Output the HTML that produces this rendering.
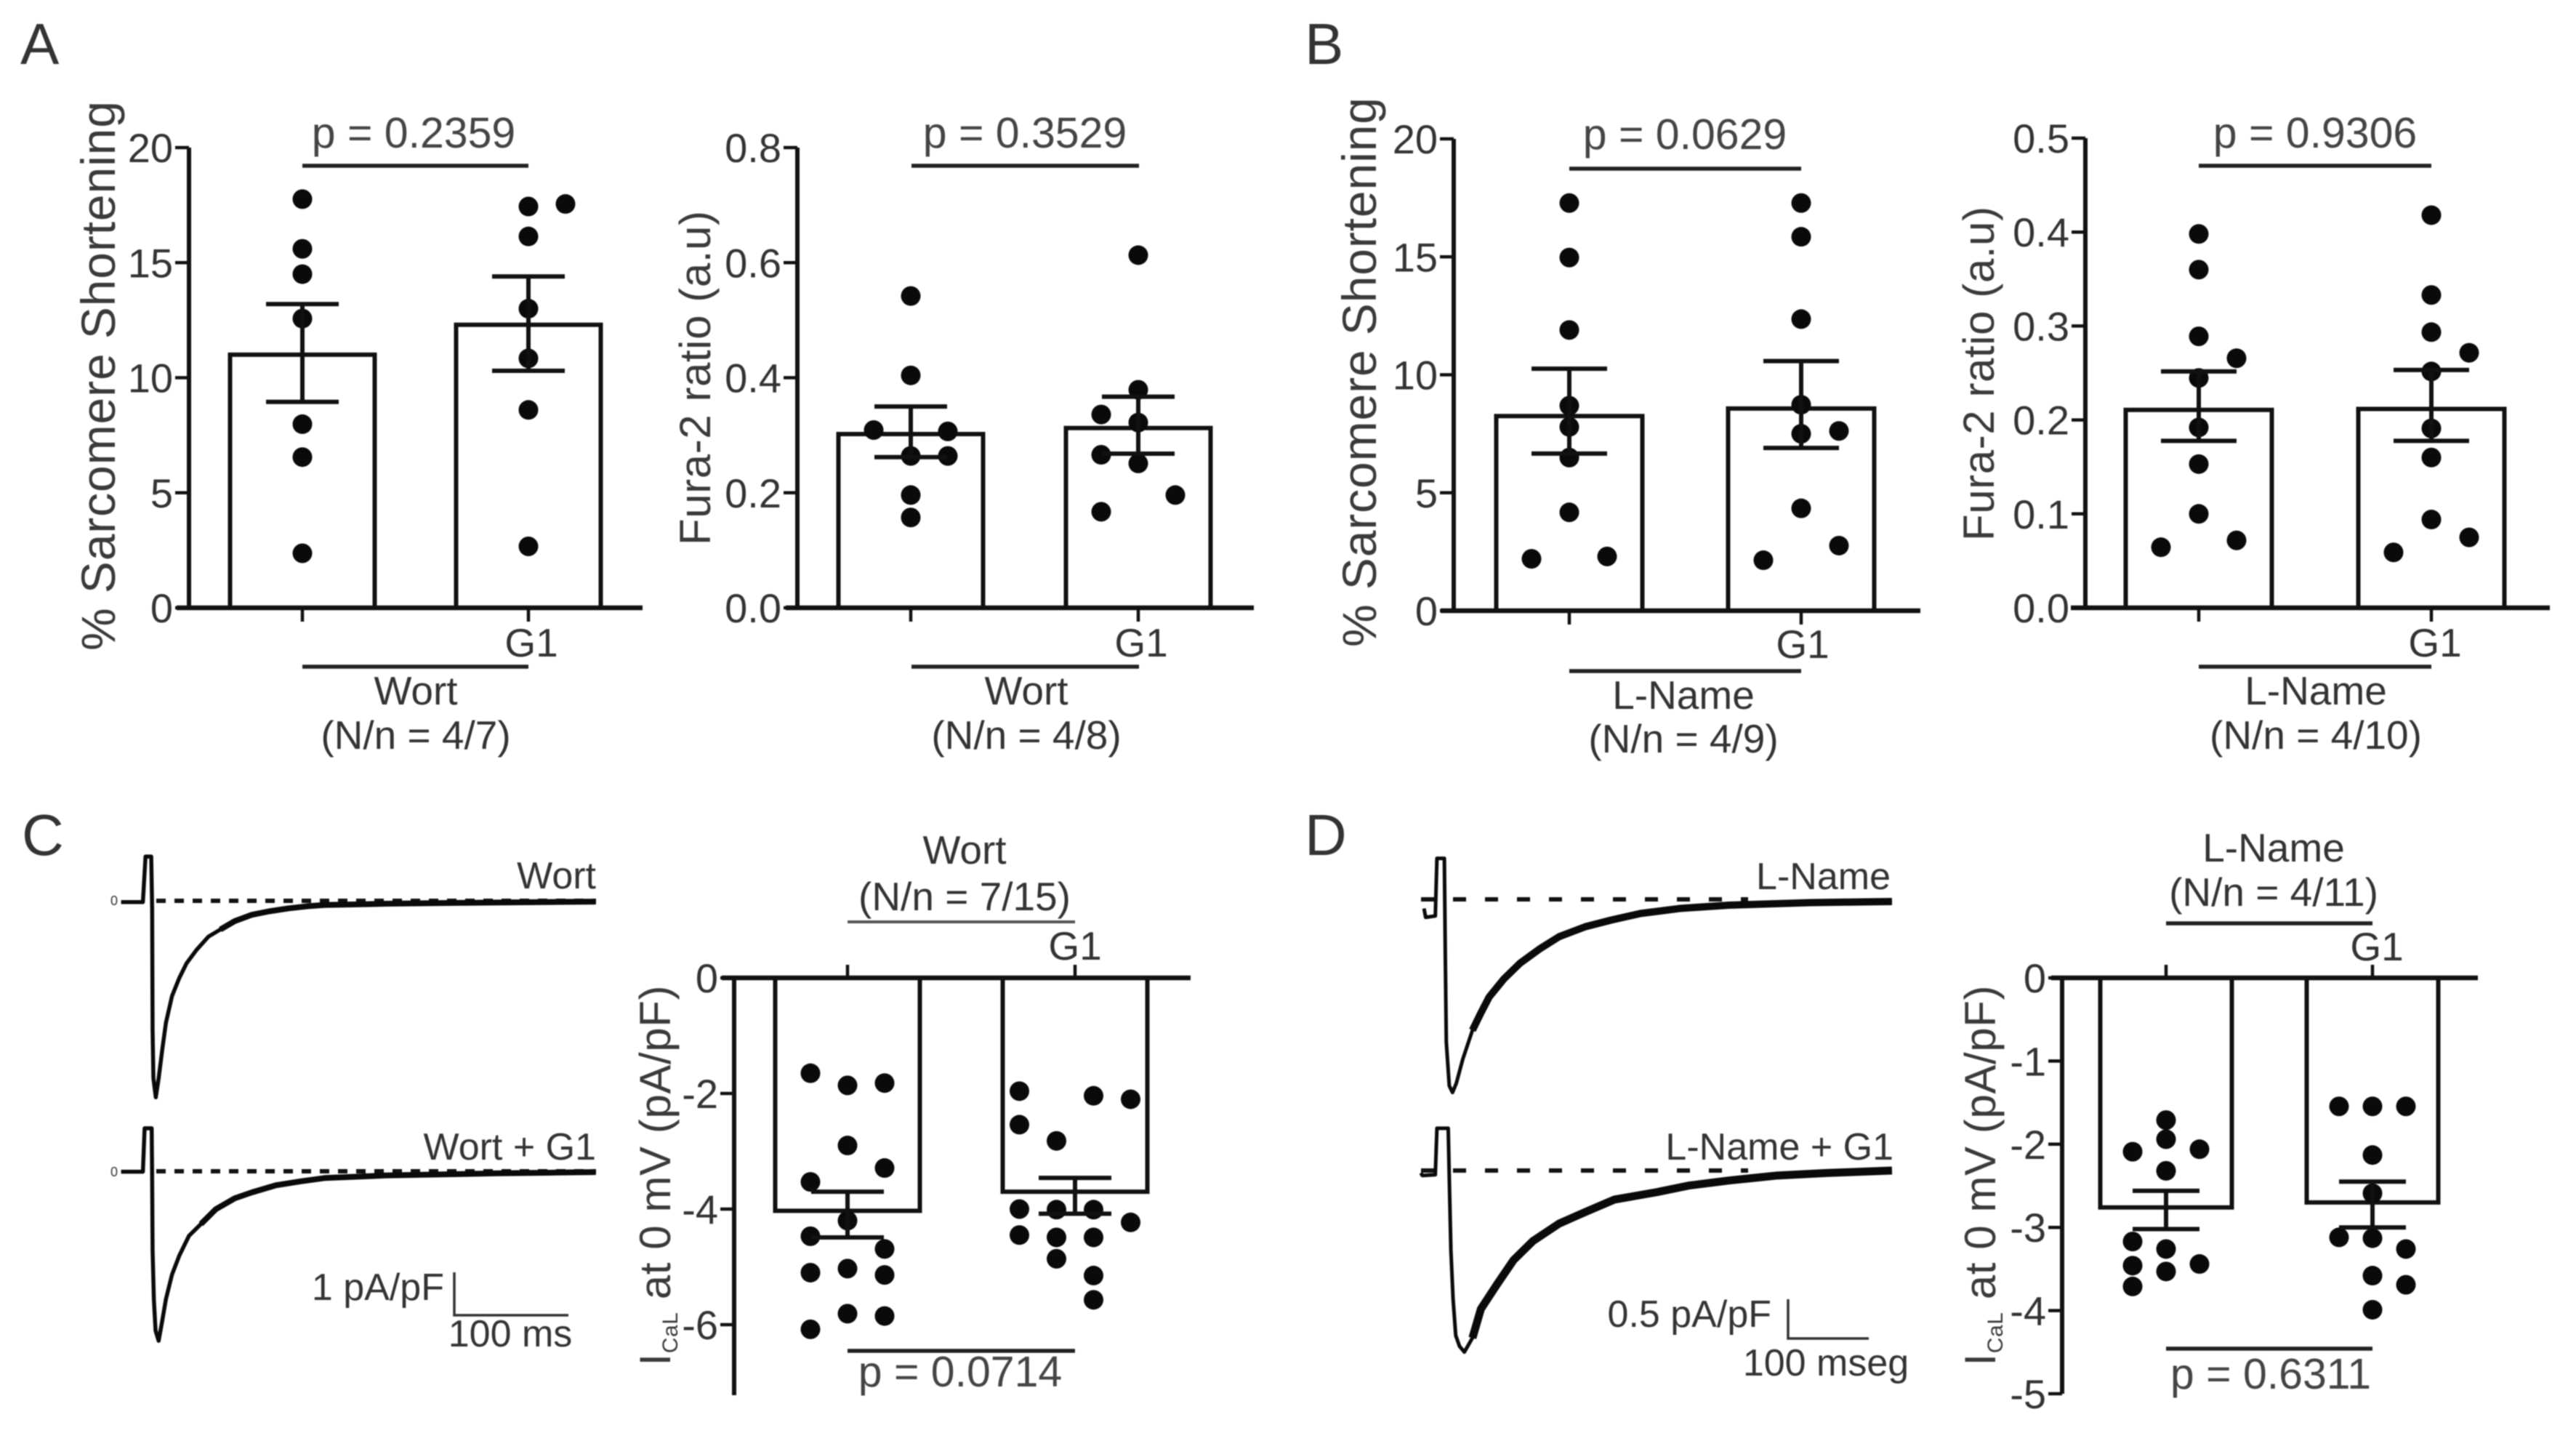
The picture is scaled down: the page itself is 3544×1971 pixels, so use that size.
<!DOCTYPE html>
<html>
<head>
<meta charset="utf-8">
<title>Sarcomere shortening, Fura-2 ratio and ICaL panels</title>
<style>
html,body{margin:0;padding:0;background:#fff;}
svg{display:block;filter:blur(0.8px);}
text{font-family:"Liberation Sans",Arial,sans-serif;fill:#333;}
.p{font-size:59px;text-anchor:middle;fill:#444;}
.l{font-size:55px;text-anchor:middle;fill:#333;}
.g{font-size:55px;text-anchor:middle;fill:#333;}
.r{font-size:52px;text-anchor:end;fill:#333;}
.s{font-size:52px;text-anchor:middle;fill:#333;}
.pl{font-size:80px;fill:#333;}
.yl{text-anchor:middle;fill:#3a3a3a;}
.ln{stroke:#222;stroke-width:5.5;fill:none;}
</style>
</head>
<body>
<svg id="fig" xmlns="http://www.w3.org/2000/svg" width="3544" height="1971" viewBox="0 0 3544 1971">
<rect width="3544" height="1971" fill="#fff"/>

<text class="pl" x="28" y="88">A</text>
<text class="pl" x="1795" y="88">B</text>
<text class="pl" x="30" y="1176">C</text>
<text class="pl" x="1795" y="1176">D</text>

<!-- Panel A -->
<text class="yl" transform="translate(158,517) rotate(-90)" font-size="66" textLength="756">% Sarcomere Shortening</text>
<text class="p" x="569" y="203">p = 0.2359</text>
<line class="ln" x1="416" x2="727" y1="228" y2="228"/>
<text class="g" x="731" y="903">G1</text>
<line class="ln" x1="416" x2="727" y1="917" y2="917"/>
<text class="l" x="572" y="969">Wort</text>
<text class="l" x="572" y="1030">(N/n = 4/7)</text>

<text class="yl" transform="translate(977,520) rotate(-90)" font-size="60" textLength="460">Fura-2 ratio (a.u)</text>
<text class="p" x="1410" y="203">p = 0.3529</text>
<line class="ln" x1="1254" x2="1567" y1="228" y2="228"/>
<text class="g" x="1570" y="903">G1</text>
<line class="ln" x1="1254" x2="1567" y1="917" y2="917"/>
<text class="l" x="1412" y="969">Wort</text>
<text class="l" x="1412" y="1030">(N/n = 4/8)</text>

<!-- Panel B -->
<text class="yl" transform="translate(1893,512) rotate(-90)" font-size="66" textLength="756">% Sarcomere Shortening</text>
<text class="p" x="2318" y="205">p = 0.0629</text>
<line class="ln" x1="2159" x2="2478" y1="232" y2="232"/>
<text class="g" x="2480" y="905">G1</text>
<line class="ln" x1="2159" x2="2478" y1="923" y2="923"/>
<text class="l" x="2316" y="975">L-Name</text>
<text class="l" x="2316" y="1035">(N/n = 4/9)</text>

<text class="yl" transform="translate(2743,514) rotate(-90)" font-size="60" textLength="460">Fura-2 ratio (a.u)</text>
<text class="p" x="3185" y="203">p = 0.9306</text>
<line class="ln" x1="3025" x2="3345" y1="228" y2="228"/>
<text class="g" x="3350" y="903">G1</text>
<line class="ln" x1="3025" x2="3345" y1="917" y2="917"/>
<text class="l" x="3186" y="969">L-Name</text>
<text class="l" x="3186" y="1030">(N/n = 4/10)</text>

<!-- Panel C labels -->
<text class="r" x="820" y="1222">Wort</text>
<text class="r" x="820" y="1595">Wort + G1</text>
<text class="r" x="611" y="1788">1 pA/pF</text>
<path d="M625 1750V1809H782" fill="none" stroke="#333" stroke-width="3.5"/>
<text class="s" x="702" y="1852">100 ms</text>
<text font-size="18" x="152" y="1245">0</text>
<text font-size="18" x="152" y="1618">0</text>
<text class="yl" transform="translate(922,1617) rotate(-90)" font-size="60" textLength="523">I<tspan font-size="30" dy="10">CaL</tspan><tspan dy="-10"> at 0 mV (pA/pF)</tspan></text>
<text class="l" x="1327" y="1188">Wort</text>
<text class="l" x="1327" y="1252">(N/n = 7/15)</text>
<line x1="1166" x2="1479" y1="1268" y2="1268" stroke="#555" stroke-width="4"/>
<text class="g" x="1479" y="1320">G1</text>
<line class="ln" x1="1166" x2="1479" y1="1858" y2="1858"/>
<text class="p" x="1321" y="1907">p = 0.0714</text>

<!-- Panel D labels -->
<text class="r" x="2601" y="1223">L-Name</text>
<text class="r" x="2605" y="1595">L-Name + G1</text>
<text class="r" x="2437" y="1825">0.5 pA/pF</text>
<path d="M2460 1787V1841H2571" fill="none" stroke="#333" stroke-width="3.5"/>
<text class="s" x="2512" y="1892">100 mseg</text>
<text class="yl" transform="translate(2745,1617) rotate(-90)" font-size="60" textLength="523">I<tspan font-size="30" dy="10">CaL</tspan><tspan dy="-10"> at 0 mV (pA/pF)</tspan></text>
<text class="l" x="3128" y="1185">L-Name</text>
<text class="l" x="3128" y="1246">(N/n = 4/11)</text>
<line class="ln" x1="2980" x2="3264" y1="1270" y2="1270"/>
<text class="g" x="3270" y="1321">G1</text>
<line class="ln" x1="2980" x2="3264" y1="1855" y2="1855"/>
<text class="p" x="3124" y="1910">p = 0.6311</text>

<script>
// ---- Data: means, SEM limits, cell values and swarm slots per chart ----
const a1Ticks = ['0','5','10','15','20'];
const a1Means = [11, 12.3];
const a1Upper = [13.2, 14.4];
const a1Lower = [8.95, 10.3];
const a1Ctrl = [17.76,15.6,14.5,12.57,7.98,6.55,2.37];
const a1CtrlSlots = [0,0,0,0,0,0,0];
const a1G1 = [17.44,17.55,16.14,13.0,10.84,8.6,2.67];
const a1G1Slots = [0,1,0,0,0,0,0];

const a2Ticks = ['0.0','0.2','0.4','0.6','0.8'];
const a2Means = [0.302, 0.3125];
const a2Upper = [0.35, 0.367];
const a2Lower = [0.262, 0.268];
const a2Ctrl = [0.542,0.404,0.309,0.3066,0.264,0.264,0.196,0.157];
const a2CtrlSlots = [0,0,-1,1,0,1,0,0];
const a2G1 = [0.613,0.379,0.336,0.322,0.266,0.251,0.196,0.167];
const a2G1Slots = [0,0,-1,0,-1,0,1,-1];

const b1Ticks = ['0','5','10','15','20'];
const b1Means = [8.25, 8.57];
const b1Upper = [10.26, 10.58];
const b1Lower = [6.66, 6.9];
const b1Ctrl = [17.28,14.97,11.9,8.69,7.79,6.49,4.17,2.2,2.3];
const b1CtrlSlots = [0,0,0,0,0,0,0,-1,1];
const b1G1 = [17.28,15.85,12.36,8.73,7.5,7.62,4.34,2.76,2.14];
const b1G1Slots = [0,0,0,0,0,1,0,1,-1];

const b2Ticks = ['0.0','0.1','0.2','0.3','0.4','0.5'];
const b2Means = [0.2107, 0.2117];
const b2Upper = [0.2516, 0.2532];
const b2Lower = [0.1777, 0.1777];
const b2Ctrl = [0.398,0.36,0.289,0.2657,0.2447,0.192,0.153,0.1,0.0718,0.0645];
const b2CtrlSlots = [0,0,0,1,0,0,0,0,1,-1];
const b2G1 = [0.418,0.333,0.2935,0.2715,0.2516,0.191,0.16,0.094,0.075,0.059];
const b2G1Slots = [0,0,0,1,0,0,0,0,1,-1];

const cTicks = ['0','-2','-4','-6'];
const cMeans = [-4.03, -3.7];
const cUpper = [-3.7, -3.46];
const cLower = [-4.49, -4.08];
const cCtrl = [-1.65,-1.86,-1.82,-2.9,-3.29,-3.53,-4.2,-4.47,-4.69,-5.03,-5.1,-5.14,-5.81,-5.85,-6.08];
const cCtrlSlots = [-1,0,1,0,1,-1,0,-1,1,0,-1,1,0,1,-1];
const cG1 = [-1.96,-2.04,-2.1,-2.54,-2.82,-4.0,-4.01,-4.01,-4.23,-4.45,-4.49,-4.49,-4.86,-5.15,-5.57];
const cG1Slots = [-1.5,0.5,1.5,-1.5,-0.5,-1.5,-0.5,0.5,1.5,-1.5,-0.5,0.5,-0.5,0.5,0.5];

const dTicks = ['0','-1','-2','-3','-4','-5'];
const dMeans = [-2.76, -2.7];
const dUpper = [-2.56, -2.45];
const dLower = [-3.02, -3.0];
const dCtrl = [-1.71,-1.94,-2.09,-2.06,-2.32,-3.17,-3.26,-3.46,-3.44,-3.53,-3.71];
const dCtrlSlots = [0,0,-1,1,0,-1,0,-1,1,0,-1];
const dG1 = [-1.545,-1.545,-1.545,-2.13,-2.59,-3.12,-3.13,-3.26,-3.58,-3.69,-3.99];
const dG1Slots = [-1,0,1,0,0,-1,0,1,0,1,0];

// Current traces: time (ms), current (pA/pF)
const c1Time = [-27,-7.9,-5.6,-0.6,0.2,0.6,1.3,3.4,5.9,9.1,12.3,17.6,24,30.4,38.9,49.5,60,72.7,87.7,102.6,119.5,136,151,204.5,300,389];
const c1Current = [-0.03,-0.03,1.05,1.05,-0.19,-3.06,-4.21,-4.66,-4.21,-3.52,-2.89,-2.26,-1.83,-1.48,-1.17,-0.85,-0.68,-0.48,-0.33,-0.25,-0.18,-0.13,-0.1,-0.07,-0.04,-0.02];
const c2Time = [-27,-7.9,-6.4,-0.2,0.2,0.6,1.7,3.2,5.9,8.7,12.3,17.6,24,32.5,43,56,72.7,87.7,109,130,151.4,204.5,300,389];
const c2Current = [-0.01,-0.01,1.02,1.02,-0.16,-1.88,-3.03,-3.78,-4.02,-3.6,-3.03,-2.45,-2,-1.53,-1.25,-0.9,-0.64,-0.5,-0.33,-0.24,-0.16,-0.1,-0.05,-0.02];
const d1Time = [-26,-24,-12,-10,-0.8,0.4,1.6,5.3,9.3,14,22,34,44.5,54.6,73,93,117,141.5,174,206,242.5,291,352,453,554];
const d1Current = [-0.11,-0.217,-0.2,0.494,0.494,-0.7,-1.72,-2.25,-2.33,-2.22,-1.93,-1.58,-1.37,-1.18,-0.96,-0.77,-0.6,-0.45,-0.33,-0.25,-0.17,-0.11,-0.07,-0.04,-0.026];
const d2Time = [-30,-28,-12,-10,4,5.3,7.3,10,13.3,18,24,34,44.5,64.7,85,109,141.5,174,210,263,303,352,412,473,554];
const d2Current = [-0.03,-0.06,-0.05,0.51,0.51,-0.09,-0.96,-1.55,-1.99,-2.12,-2.19,-2.02,-1.67,-1.37,-1.08,-0.85,-0.64,-0.5,-0.35,-0.26,-0.18,-0.12,-0.06,-0.03,0];

// ---- Drawing ----
const NS = 'http://www.w3.org/2000/svg';
const fig = document.getElementById('fig');

function mk(tag, attrs, name) {
  const el = document.createElementNS(NS, tag);
  for (const k in attrs) el.setAttribute(k, attrs[k]);
  
  
  return el;
}

function barChart(c) {
  const g = mk('g', {}, 'bar-chart-' + c.id);
  fig.appendChild(g);
  const yOf = v => c.y0 + (v / c.vEnd) * (c.yEnd - c.y0);
  const sw = 6;
  const ink = '#111';

  c.means.forEach((m, i) => {
    const h = yOf(m) - c.y0;
    const r = mk('rect', {
      x: c.cx[i] - c.barW / 2,
      y: Math.min(c.y0, c.y0 + h),
      width: c.barW,
      height: Math.abs(h),
      fill: '#fff',
      stroke: ink,
      'stroke-width': sw
    }, 'bar-' + c.id + '-' + (i === 0 ? 'control' : 'g1'));
    g.appendChild(r);
  });

  [c.ctrl, c.g1].forEach((vals, i) => {
    const slots = i === 0 ? c.ctrlSlots : c.g1Slots;
    vals.forEach((v, j) => {
      const d = mk('circle', {
        cx: c.cx[i] + slots[j] * c.dotGap,
        cy: yOf(v),
        r: 13.5,
        fill: '#0a0a0a'
      }, 'point-' + c.id + '-' + (i === 0 ? 'control' : 'g1'));
      g.appendChild(d);
    });
  });

  c.means.forEach((m, i) => {
    const x = c.cx[i];
    const hi = yOf(c.upper[i]);
    const lo = yOf(c.lower[i]);
    const p = mk('path', {
      d: 'M' + (x - c.cap) + ' ' + hi + 'H' + (x + c.cap) + 'M' + x + ' ' + hi + 'V' + lo + 'M' + (x - c.cap) + ' ' + lo + 'H' + (x + c.cap),
      fill: 'none',
      stroke: ink,
      'stroke-width': sw
    }, 'error-bar-' + c.id + '-' + (i === 0 ? 'control' : 'g1'));
    g.appendChild(p);
  });

  g.appendChild(mk('line', {x1: c.axisX, x2: c.axisX, y1: c.axisTop, y2: c.axisBottom, stroke: ink, 'stroke-width': sw}, 'y-axis-' + c.id));
  g.appendChild(mk('line', {x1: c.xLeft, x2: c.xRight, y1: c.y0, y2: c.y0, stroke: ink, 'stroke-width': sw + 0.5}, 'x-axis-' + c.id));

  c.cx.forEach((x, i) => {
    g.appendChild(mk('line', {x1: x, x2: x, y1: c.y0, y2: c.y0 + c.xTick, stroke: ink, 'stroke-width': 4.5}, 'x-tick-' + c.id));
  });

  c.ticks.forEach(t => {
    const y = yOf(parseFloat(t));
    g.appendChild(mk('line', {x1: c.axisX - 19, x2: c.axisX, y1: y, y2: y, stroke: ink, 'stroke-width': 4.5}, 'y-tick-' + c.id));
    const lab = mk('text', {x: c.axisX - 22, y: y + 20, 'font-size': 56, 'text-anchor': 'end'}, 'y-tick-label-' + c.id);
    lab.textContent = t;
    g.appendChild(lab);
  });
}

function trace(t) {
  const dash = mk('line', {x1: t.dashFrom, x2: t.dashTo, y1: t.y0, y2: t.y0, stroke: '#111', 'stroke-width': 6, 'stroke-dasharray': t.dash}, 'zero-line-' + t.id);
  fig.appendChild(dash);
  const toPoint = i => (t.x0 + t.time[i] * t.pxPerMs) + ',' + (t.y0 - t.current[i] * t.pxPerUnit);
  const all = t.time.map((ms, i) => toPoint(i)).join(' ');
  const line = mk('polyline', {points: all, fill: 'none', stroke: '#0a0a0a', 'stroke-width': t.sw, 'stroke-linejoin': 'round'}, 'current-trace-' + t.id);
  fig.appendChild(line);
  const tail = t.time.map((ms, i) => i).filter(i => t.time[i] >= t.tailFrom).map(toPoint).join(' ');
  const thick = mk('polyline', {points: tail, fill: 'none', stroke: '#0a0a0a', 'stroke-width': t.tailSw, 'stroke-linejoin': 'round'}, 'current-trace-tail-' + t.id);
  fig.appendChild(thick);
}

barChart({id:'a-shortening',ticks:a1Ticks,means:a1Means,upper:a1Upper,lower:a1Lower,ctrl:a1Ctrl,ctrlSlots:a1CtrlSlots,g1:a1G1,g1Slots:a1G1Slots,
  vEnd:20,y0:836,yEnd:203,axisX:260,axisTop:203,axisBottom:836,xLeft:243,xRight:884,cx:[416,727],barW:199,cap:50,dotGap:51,xTick:19});
barChart({id:'a-fura',ticks:a2Ticks,means:a2Means,upper:a2Upper,lower:a2Lower,ctrl:a2Ctrl,ctrlSlots:a2CtrlSlots,g1:a2G1,g1Slots:a2G1Slots,
  vEnd:0.8,y0:836,yEnd:203,axisX:1097,axisTop:203,axisBottom:836,xLeft:1081,xRight:1725,cx:[1253,1566],barW:199,cap:50,dotGap:51,xTick:19});
barChart({id:'b-shortening',ticks:b1Ticks,means:b1Means,upper:b1Upper,lower:b1Lower,ctrl:b1Ctrl,ctrlSlots:b1CtrlSlots,g1:b1G1,g1Slots:b1G1Slots,
  vEnd:20,y0:840,yEnd:191,axisX:2000,axisTop:191,axisBottom:840,xLeft:1982,xRight:2642,cx:[2159,2478],barW:201,cap:52,dotGap:52,xTick:19});
barChart({id:'b-fura',ticks:b2Ticks,means:b2Means,upper:b2Upper,lower:b2Lower,ctrl:b2Ctrl,ctrlSlots:b2CtrlSlots,g1:b2G1,g1Slots:b2G1Slots,
  vEnd:0.5,y0:836,yEnd:190,axisX:2869,axisTop:190,axisBottom:836,xLeft:2849,xRight:3508,cx:[3025,3345],barW:201,cap:52,dotGap:52,xTick:19});
barChart({id:'c',ticks:cTicks,means:cMeans,upper:cUpper,lower:cLower,ctrl:cCtrl,ctrlSlots:cCtrlSlots,g1:cG1,g1Slots:cG1Slots,
  vEnd:-6,y0:1345,yEnd:1822,axisX:1010,axisTop:1345,axisBottom:1919,xLeft:993,xRight:1638,cx:[1166,1479],barW:199,cap:50,dotGap:51,xTick:-18});
barChart({id:'d',ticks:dTicks,means:dMeans,upper:dUpper,lower:dLower,ctrl:dCtrl,ctrlSlots:dCtrlSlots,g1:dG1,g1Slots:dG1Slots,
  vEnd:-5,y0:1345,yEnd:1917,axisX:2837,axisTop:1345,axisBottom:1917,xLeft:2822,xRight:3409,cx:[2980,3264],barW:181,cap:46,dotGap:46,xTick:-18});

trace({id:'wort',time:c1Time,current:c1Current,x0:209,y0:1239,pxPerMs:1.57,pxPerUnit:58,sw:5.5,tailFrom:60,tailSw:8,dashFrom:215,dashTo:820,dash:'13 12'});
trace({id:'wort-g1',time:c2Time,current:c2Current,x0:209,y0:1611,pxPerMs:1.57,pxPerUnit:58,sw:5.5,tailFrom:43,tailSw:8,dashFrom:215,dashTo:820,dash:'13 12'});
trace({id:'lname',time:d1Time,current:d1Current,x0:1988,y0:1237,pxPerMs:1.11,pxPerUnit:114,sw:5,tailFrom:30,tailSw:10,dashFrom:1955,dashTo:2405,dash:'18 26'});
trace({id:'lname-g1',time:d2Time,current:d2Current,x0:1988,y0:1610,pxPerMs:1.11,pxPerUnit:114,sw:5,tailFrom:30,tailSw:11,dashFrom:1955,dashTo:2405,dash:'18 26'});
</script>
</svg>
</body>
</html>
